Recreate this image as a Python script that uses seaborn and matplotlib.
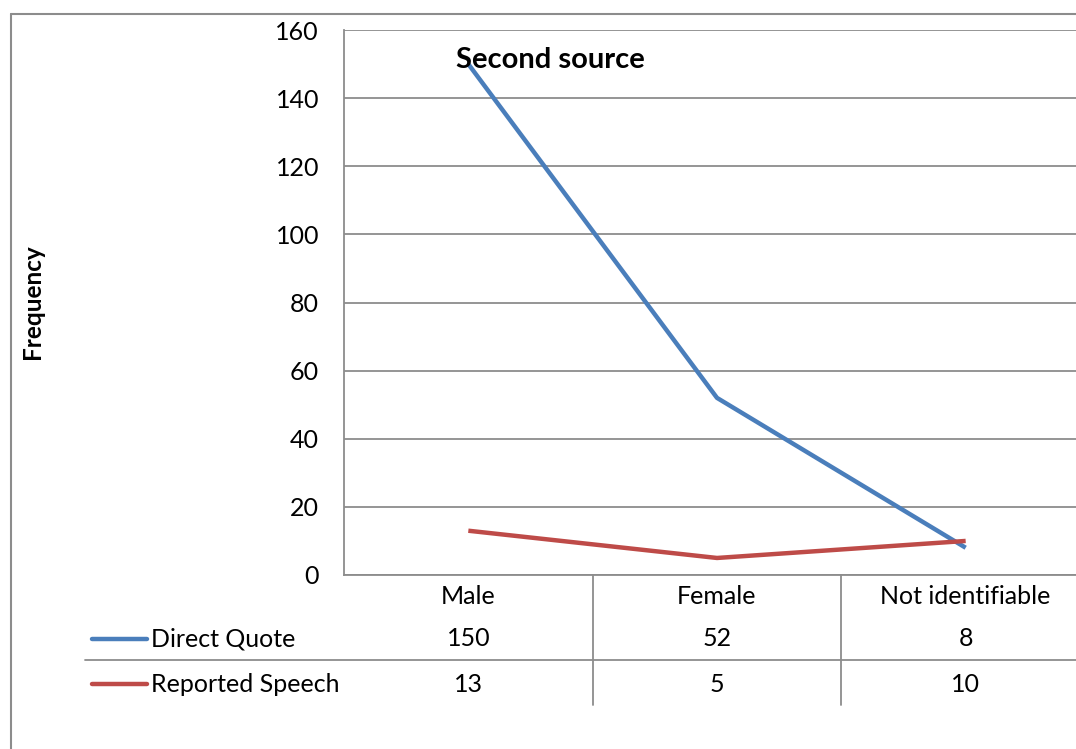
import matplotlib
matplotlib.use("Agg")
import matplotlib.pyplot as plt
from matplotlib.lines import Line2D
from matplotlib.transforms import blended_transform_factory
import pandas as pd
import seaborn as sns

# Series values per source gender
categories = ["Male", "Female", "Not identifiable"]
direct_quote = [150, 52, 8]
reported_speech = [13, 5, 10]
series_names = ["Direct Quote", "Reported Speech"]
y_ticks = [0, 20, 40, 60, 80, 100, 120, 140, 160]

colors = {"Direct Quote": "#4A7EBB", "Reported Speech": "#BE4B48"}
grid_color = "#8C8C8C"
FONT = "Lato"
FS = 18

sns.set_theme(style="white")
plt.rcParams["font.family"] = [FONT, "DejaVu Sans"]

df = pd.DataFrame({
    "category": categories * 2,
    "value": direct_quote + reported_speech,
    "series": [series_names[0]] * 3 + [series_names[1]] * 3,
})
df["pos"] = df["category"].map({c: i for i, c in enumerate(categories)})

W, H = 1076, 749
fig = plt.figure(figsize=(W / 100, H / 100), dpi=100)
fig.patch.set_facecolor("white")

def fx(px):
    return px / W

def fy(py):
    return 1 - py / H

ax_left, ax_right, ax_top, ax_bottom = 344, 1090, 30, 575
ax = fig.add_axes([fx(ax_left), fy(ax_bottom), fx(ax_right - ax_left), (ax_bottom - ax_top) / H])

sns.lineplot(data=df, x="pos", y="value", hue="series", palette=colors,
             linewidth=3.2, legend=False, ax=ax, sort=False)
for ln in ax.lines:
    ln.set_solid_capstyle("butt")

ax.set_xlim(-0.5, len(categories) - 0.5)
ax.set_ylim(0, 160)
ax.set_yticks(y_ticks)
ax.set_yticklabels([str(t) for t in y_ticks], fontsize=FS, color="black")
ax.set_xticks([])
ax.set_xlabel("")
ax.set_ylabel("")
ax.tick_params(axis="y", length=0, pad=18)
ax.yaxis.grid(True, color=grid_color, linewidth=1.3)
ax.set_axisbelow(True)
for side in ["top", "right"]:
    ax.spines[side].set_visible(False)
for side in ["left", "bottom"]:
    ax.spines[side].set_color(grid_color)
    ax.spines[side].set_linewidth(1.3)

# Chart title and axis title
fig.text(fx(550), fy(60), "Second source", fontsize=21, fontweight="bold",
         ha="center", va="center", color="black")
fig.text(fx(33), fy(302), "Frequency", fontsize=17.5, fontweight="bold",
         rotation=90, ha="center", va="center", color="black")

# Data table below the plot
blend = blended_transform_factory(ax.transData, fig.transFigure)
row_y = {"header": 597, series_names[0]: 639, series_names[1]: 684}
for i, cat in enumerate(categories):
    ax.text(i, fy(row_y["header"]), cat, transform=blend, fontsize=FS,
            ha="center", va="center", clip_on=False, color="black")
for name, vals in zip(series_names, [direct_quote, reported_speech]):
    for i, v in enumerate(vals):
        ax.text(i, fy(row_y[name]), str(v), transform=blend, fontsize=FS,
                ha="center", va="center", clip_on=False, color="black")
    fig.add_artist(Line2D([fx(92), fx(147)], [fy(row_y[name])] * 2,
                          color=colors[name], linewidth=3.2, solid_capstyle="round"))
    fig.text(fx(151), fy(row_y[name]), name, fontsize=FS, ha="left", va="center",
             color="black")

# Table grid lines
for xb in [0.5, 1.5]:
    ax.add_artist(Line2D([xb, xb], [fy(575), fy(705)], transform=blend,
                         color=grid_color, linewidth=1.3, clip_on=False))
fig.add_artist(Line2D([fx(85), 1], [fy(660)] * 2, color=grid_color, linewidth=1.3))

# Outer chart frame
fig.add_artist(Line2D([fx(11), 1], [fy(14)] * 2, color=grid_color, linewidth=1.5))
fig.add_artist(Line2D([fx(11), fx(11)], [fy(14), 0], color=grid_color, linewidth=1.5))

fig.savefig("out.png", dpi=100)
